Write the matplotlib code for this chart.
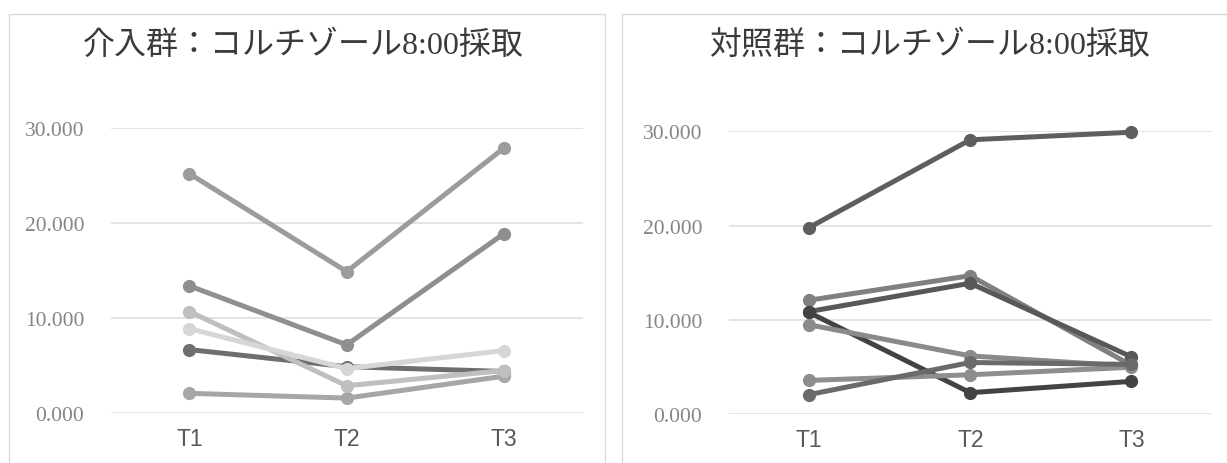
import matplotlib
matplotlib.use("Agg")
import matplotlib.pyplot as plt
from matplotlib.patches import Rectangle

categories = ["T1", "T2", "T3"]
yticks = [0, 10, 20, 30]
ytick_labels = ["0.000", "10.000", "20.000", "30.000"]

title_left = "介入群：コルチゾール8:00採取"
title_right = "対照群：コルチゾール8:00採取"

# Intervention group series
left_e = [6.7, 4.9, 4.4]
left_f = [2.1, 1.6, 3.9]
left_a = [25.2, 14.9, 27.9]
left_b = [13.4, 7.2, 18.9]
left_c = [10.7, 2.9, 4.5]
left_d = [8.9, 4.7, 6.6]
left_series = [left_e, left_f, left_a, left_b, left_c, left_d]
left_colors = ["#6e6e6e", "#a6a6a6", "#9c9c9c", "#8f8f8f", "#bfbfbf", "#d6d6d6"]

# Control group series
right_1 = [19.8, 29.1, 29.9]
right_2 = [12.1, 14.7, 5.2]
right_3 = [10.9, 13.9, 6.1]
right_4 = [10.8, 2.3, 3.5]
right_5 = [9.5, 6.2, 5.1]
right_6 = [3.6, 4.2, 5.0]
right_7 = [2.1, 5.5, 5.3]
right_series = [right_1, right_2, right_3, right_4, right_5, right_6, right_7]
right_colors = ["#5e5e5e", "#808080", "#585858", "#434343", "#8a8a8a", "#8e8e8e", "#6a6a6a"]

W, H = 1227, 464
fig = plt.figure(figsize=(W / 100, H / 100), dpi=100)
fig.patch.set_facecolor("white")

# panel frames
fig.add_artist(Rectangle((8.7 / W, -0.1), (605 - 8.7) / W, 1.1 - 14.5 / H,
                         transform=fig.transFigure, fill=False,
                         edgecolor="#d9d9d9", lw=1.0))
fig.add_artist(Rectangle((622 / W, -0.1), 0.6, 1.1 - 14.5 / H,
                         transform=fig.transFigure, fill=False,
                         edgecolor="#d9d9d9", lw=1.0))

def setup(ax, series, colors):
    x = list(range(len(categories)))
    for s, c in zip(series, colors):
        ax.plot(x, s, color=c, lw=3.6, marker="o", ms=9.5,
                markeredgewidth=0, clip_on=False, solid_capstyle="round")
    ax.set_xlim(-0.5, 2.5)
    ax.set_ylim(0, 30)
    ax.set_yticks(yticks)
    ax.set_yticklabels(ytick_labels, family="Liberation Serif", fontsize=15.5,
                       color="#858585")
    ax.set_xticks(x)
    ax.set_xticklabels(categories, family="Liberation Sans", fontsize=16.5,
                       color="#595959")
    ax.tick_params(axis="y", length=0, pad=19)
    ax.tick_params(axis="x", length=0, pad=10)
    for sp in ax.spines.values():
        sp.set_visible(False)
    ax.grid(axis="y", color="#dcdcdc", lw=1.1, zorder=0)
    ax.set_axisbelow(True)

axL = fig.add_axes([110.7 / W, (H - 414.3) / H, 472 / W, (414.3 - 129) / H])
setup(axL, left_series, left_colors)
axR = fig.add_axes([728.5 / W, (H - 415.4) / H, 483.5 / W, (415.4 - 132.3) / H])
setup(axR, right_series, right_colors)

tfont = ["Liberation Serif", "Noto Sans CJK JP"]
fig.text(303 / W, 1 - 46 / H, title_left, family=tfont, fontsize=23,
         color="#3a3a3a", ha="center", va="center")
fig.text(930 / W, 1 - 46 / H, title_right, family=tfont, fontsize=23,
         color="#3a3a3a", ha="center", va="center")

fig.savefig("out.png", dpi=100, facecolor="white")
